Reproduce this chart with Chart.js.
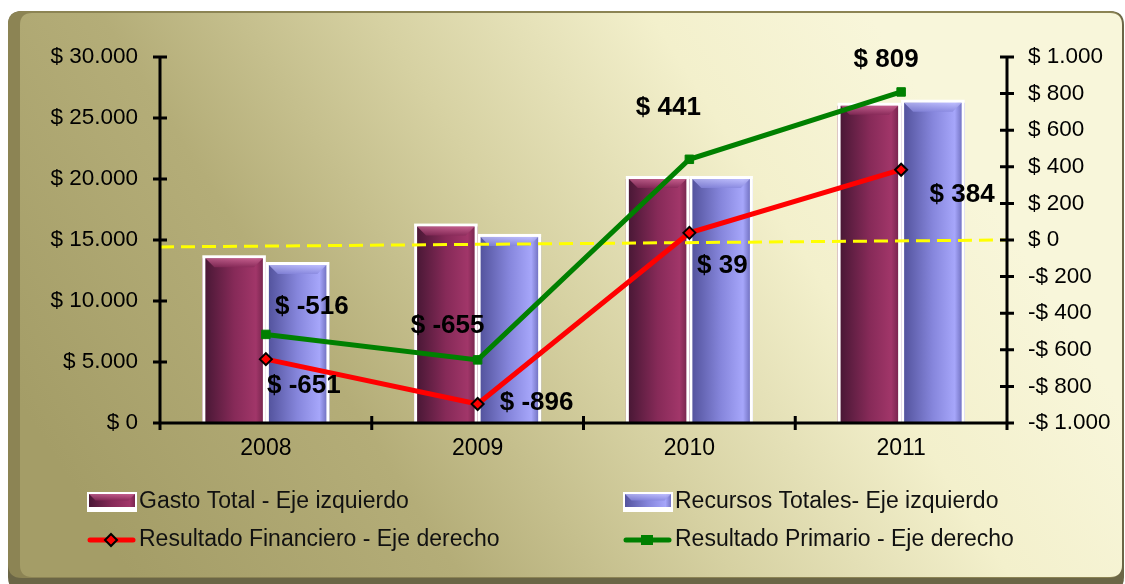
<!DOCTYPE html>
<html>
<head>
<meta charset="utf-8">
<script src="https://cdn.jsdelivr.net/npm/chart.js@4.4.1/dist/chart.umd.min.js"></script>
<style>
  html, body { margin: 0; padding: 0; background: #ffffff; }
  #wrap { width: 1125px; height: 584px; }
</style>
</head>
<body>
<div id="wrap"><canvas id="chart" width="1125" height="584"></canvas></div>
<script>
// values
const categories = ['2008', '2009', '2010', '2011'];
const gastoTotal = [13500, 16100, 20000, 26000];
const recursosTotales = [12950, 15250, 20000, 26250];
const resultadoFinanciero = [-651, -896, 39, 384];
const resultadoPrimario = [-516, -655, 441, 809];
const leftTicks = [0, 5000, 10000, 15000, 20000, 25000, 30000];
const rightTicks = [-1000, -800, -600, -400, -200, 0, 200, 400, 600, 800, 1000];
const zeroLine = [-38, 0]; // dashed yellow line, right axis units (left end, right end)

const FONT = '"Liberation Sans", Arial, sans-serif';

function money(v) {
  const s = Math.abs(v).toString().replace(/\B(?=(\d{3})+(?!\d))/g, '.');
  return (v < 0 ? '-' : '') + '$ ' + s;
}

// label offsets from the point, in px (centre of text)
const finOffsets = [[38, 27], [59, -1], [33, 33], [61, 25]];
const primOffsets = [[46, -28], [-30, -34], [-21, -51], [-15, -32]];

const palettes = [
  { dark: '#4a1836', mid: '#862a58', light: '#a13669', edge: '#7a2650', top: '#d06a98' },
  { dark: '#54549e', mid: '#8686dc', light: '#a6a6fa', edge: '#7474c4', top: '#c4c4ff' }
];

function roundRect(ctx, x, y, w, h, r) {
  ctx.beginPath();
  ctx.moveTo(x + r, y);
  ctx.lineTo(x + w - r, y);
  ctx.quadraticCurveTo(x + w, y, x + w, y + r);
  ctx.lineTo(x + w, y + h - r);
  ctx.quadraticCurveTo(x + w, y + h, x + w - r, y + h);
  ctx.lineTo(x + r, y + h);
  ctx.quadraticCurveTo(x, y + h, x, y + h - r);
  ctx.lineTo(x, y + r);
  ctx.quadraticCurveTo(x, y, x + r, y);
  ctx.closePath();
}

function drawBarShape(ctx, l, t, w, h, p) {
  const g = ctx.createLinearGradient(l, 0, l + w, 0);
  g.addColorStop(0, p.dark);
  g.addColorStop(0.5, p.mid);
  g.addColorStop(0.88, p.light);
  g.addColorStop(1, p.edge);
  ctx.fillStyle = g;
  ctx.fillRect(l, t, w, h);
  const b = Math.min(9, h / 2);
  ctx.beginPath();
  ctx.moveTo(l, t);
  ctx.lineTo(l + w, t);
  ctx.lineTo(l + w - b, t + b);
  ctx.lineTo(l + b, t + b);
  ctx.closePath();
  const gb = ctx.createLinearGradient(0, t, 0, t + b);
  gb.addColorStop(0, p.top);
  gb.addColorStop(1, p.mid);
  ctx.globalAlpha = 0.75;
  ctx.fillStyle = gb;
  ctx.fill();
  ctx.globalAlpha = 1;
}

const framePlugin = {
  id: 'frame',
  beforeDraw(chart) {
    const ctx = chart.ctx;
    ctx.save();
    ctx.fillStyle = '#ffffff';
    ctx.fillRect(0, 0, chart.width, chart.height);
    roundRect(ctx, 8, 11, 1116, 580, 14);
    ctx.fillStyle = '#6b6646';
    ctx.fill();
    roundRect(ctx, 8, 11, 1114, 567, 14);
    ctx.fillStyle = '#8c8454';
    ctx.fill();
    roundRect(ctx, 20, 13, 1102, 564, 12);
    const g = ctx.createLinearGradient(120, 560, 900, 60);
    g.addColorStop(0, '#a49d67');
    g.addColorStop(0.3, '#b4ad78');
    g.addColorStop(0.55, '#d6d1a2');
    g.addColorStop(0.8, '#f3f0cc');
    g.addColorStop(1, '#f8f6da');
    ctx.fillStyle = g;
    ctx.fill();
    ctx.restore();
  }
};

let zeroDrawn = false;
const barsPlugin = {
  id: 'bars',
  beforeDatasetsDraw() { zeroDrawn = false; },
  afterDatasetDraw(chart, args) {
    const meta = args.meta;
    if (meta.type !== 'bar') return;
    const ctx = chart.ctx;
    const p = palettes[args.index];
    ctx.save();
    meta.data.forEach(el => {
      const { x, y, base, width } = el.getProps(['x', 'y', 'base', 'width'], true);
      const l = x - width / 2;
      ctx.fillStyle = '#ffffff';
      ctx.fillRect(l, y - 3, width, base - y + 4);
      drawBarShape(ctx, l + 3, y, width - 6, base - y - 1, p);
    });
    ctx.restore();
  },
  beforeDatasetDraw(chart, args) {
    if (args.meta.type !== 'line' || zeroDrawn) return;
    zeroDrawn = true;
    const ctx = chart.ctx;
    const a = chart.chartArea;
    const y1 = chart.scales.y1;
    ctx.save();
    ctx.strokeStyle = '#ffff00';
    ctx.lineWidth = 3;
    ctx.setLineDash([14, 7]);
    ctx.beginPath();
    ctx.moveTo(a.left, y1.getPixelForValue(zeroLine[0]));
    ctx.lineTo(a.right, y1.getPixelForValue(zeroLine[1]));
    ctx.stroke();
    ctx.restore();
  }
};

const axesPlugin = {
  id: 'axes',
  afterDraw(chart) {
    const ctx = chart.ctx;
    const a = chart.chartArea;
    const { x, y, y1 } = chart.scales;
    ctx.save();
    ctx.strokeStyle = '#000000';
    ctx.lineWidth = 3;
    ctx.beginPath();
    ctx.moveTo(a.left, a.top - 1); ctx.lineTo(a.left, a.bottom + 1);
    ctx.moveTo(a.right, a.top - 1); ctx.lineTo(a.right, a.bottom + 1);
    ctx.moveTo(a.left, a.bottom); ctx.lineTo(a.right, a.bottom);
    leftTicks.forEach(v => {
      const py = y.getPixelForValue(v);
      ctx.moveTo(a.left - 7, py); ctx.lineTo(a.left + 7, py);
    });
    rightTicks.forEach(v => {
      const py = y1.getPixelForValue(v);
      ctx.moveTo(a.right - 7, py); ctx.lineTo(a.right + 7, py);
    });
    for (let i = 0; i <= categories.length; i++) {
      let px;
      if (i === 0) px = a.left;
      else if (i === categories.length) px = a.right;
      else px = (x.getPixelForTick(i - 1) + x.getPixelForTick(i)) / 2;
      ctx.moveTo(px, a.bottom - 7); ctx.lineTo(px, a.bottom + 7);
    }
    ctx.stroke();
    ctx.restore();
  }
};

const labelsPlugin = {
  id: 'valueLabels',
  afterDatasetsDraw(chart) {
    const ctx = chart.ctx;
    ctx.save();
    ctx.font = 'bold 26px ' + FONT;
    ctx.fillStyle = '#000000';
    ctx.textAlign = 'center';
    ctx.textBaseline = 'middle';
    [[2, resultadoFinanciero, finOffsets], [3, resultadoPrimario, primOffsets]].forEach(([di, vals, offs]) => {
      const meta = chart.getDatasetMeta(di);
      meta.data.forEach((pt, i) => {
        ctx.fillText('$ ' + vals[i], pt.x + offs[i][0], pt.y + offs[i][1]);
      });
    });
    ctx.restore();
  }
};

const legendPlugin = {
  id: 'customLegend',
  afterDraw(chart) {
    const ctx = chart.ctx;
    const ds = chart.data.datasets;
    const slots = [
      { x: 87, y: 502 }, { x: 623, y: 502 },
      { x: 87, y: 540 }, { x: 623, y: 540 }
    ];
    ctx.save();
    ctx.font = '23px ' + FONT;
    ctx.textBaseline = 'middle';
    ctx.textAlign = 'left';
    ds.forEach((d, i) => {
      const s = slots[i];
      if (d.type === 'bar') {
        ctx.fillStyle = '#ffffff';
        ctx.fillRect(s.x, s.y - 10, 50, 20);
        drawBarShape(ctx, s.x + 2, s.y - 8, 46, 13, palettes[i]);
      } else {
        ctx.strokeStyle = d.borderColor;
        ctx.lineWidth = 5;
        ctx.lineCap = 'round';
        ctx.beginPath();
        ctx.moveTo(s.x + 3, s.y); ctx.lineTo(s.x + 46, s.y);
        ctx.stroke();
        const cx = s.x + 24;
        if (d.pointStyle === 'rectRot') {
          ctx.beginPath();
          ctx.moveTo(cx, s.y - 6); ctx.lineTo(cx + 6, s.y); ctx.lineTo(cx, s.y + 6); ctx.lineTo(cx - 6, s.y);
          ctx.closePath();
          ctx.fillStyle = d.pointBackgroundColor;
          ctx.fill();
          ctx.lineWidth = 2;
          ctx.strokeStyle = '#000000';
          ctx.stroke();
        } else {
          ctx.fillStyle = d.pointBackgroundColor;
          ctx.fillRect(cx - 6, s.y - 5, 12, 10);
        }
      }
      ctx.fillStyle = '#111111';
      ctx.fillText(d.label, s.x + 52, s.y);
    });
    ctx.restore();
  }
};

new Chart(document.getElementById('chart'), {
  data: {
    labels: categories,
    datasets: [
      {
        type: 'bar', label: 'Gasto Total - Eje izquierdo', data: gastoTotal,
        yAxisID: 'y', order: 1, backgroundColor: '#862a58',
        categoryPercentage: 0.6, barPercentage: 1.0
      },
      {
        type: 'bar', label: 'Recursos Totales- Eje izquierdo', data: recursosTotales,
        yAxisID: 'y', order: 1, backgroundColor: '#8686dc',
        categoryPercentage: 0.6, barPercentage: 1.0
      },
      {
        type: 'line', label: 'Resultado Financiero - Eje derecho', data: resultadoFinanciero,
        yAxisID: 'y1', order: 0, borderColor: '#ff0000', borderWidth: 5,
        pointStyle: 'rectRot', pointRadius: 6, pointBackgroundColor: '#ff0000',
        pointBorderColor: '#000000', pointBorderWidth: 2, tension: 0
      },
      {
        type: 'line', label: 'Resultado Primario - Eje derecho', data: resultadoPrimario,
        yAxisID: 'y1', order: 0, borderColor: '#008000', borderWidth: 5,
        pointStyle: 'rect', pointRadius: 6, pointBackgroundColor: '#008000',
        pointBorderColor: '#008000', pointBorderWidth: 1, tension: 0
      }
    ]
  },
  options: {
    responsive: false,
    animation: false,
    layout: { padding: { top: 57, left: 0, right: 0, bottom: 0 } },
    plugins: {
      legend: { display: false },
      tooltip: { enabled: false }
    },
    scales: {
      x: {
        offset: true,
        grid: { display: false, tickLength: 7 },
        border: { display: false },
        ticks: { color: '#000000', font: { family: FONT, size: 23 }, padding: 5 },
        afterFit(s) { s.height = 161; }
      },
      y: {
        position: 'left', min: 0, max: 30000,
        grid: { display: false, tickLength: 7 },
        border: { display: false },
        afterBuildTicks(s) { s.ticks = leftTicks.map(v => ({ value: v })); },
        ticks: { color: '#000000', font: { family: FONT, size: 22.5 }, padding: 15, callback: v => money(v) },
        afterFit(s) { s.width = 160; }
      },
      y1: {
        position: 'right', min: -1000, max: 1000,
        grid: { display: false, tickLength: 7 },
        border: { display: false },
        afterBuildTicks(s) { s.ticks = rightTicks.map(v => ({ value: v })); },
        ticks: { color: '#000000', font: { family: FONT, size: 22.5 }, padding: 14, callback: v => money(v) },
        afterFit(s) { s.width = 118; }
      }
    }
  },
  plugins: [framePlugin, barsPlugin, axesPlugin, labelsPlugin, legendPlugin]
});
</script>
</body>
</html>
